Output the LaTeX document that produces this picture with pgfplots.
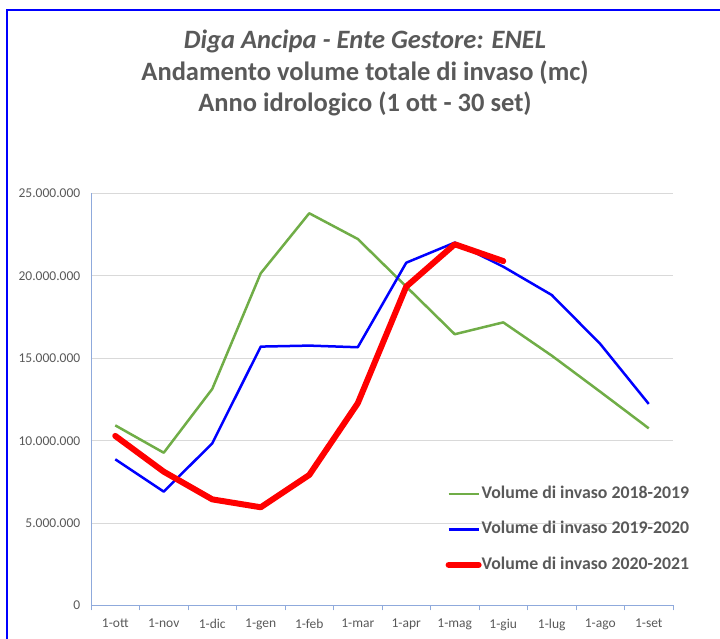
\documentclass[border=0pt]{standalone}
\usepackage{fontspec}
\setmainfont{Carlito}
\usepackage{pgfplots}
\pgfplotsset{compat=1.18}
\definecolor{ttl}{HTML}{595959}
\definecolor{axblue}{HTML}{8FAADC}
\definecolor{grd}{HTML}{D9D9D9}
\definecolor{grn}{HTML}{70AD47}
\definecolor{frm}{HTML}{0000FF}

\begin{document}
\begin{tikzpicture}[x=1pt,y=1pt]
\useasboundingbox (0,0) rectangle (720,639);
\draw[frm, line width=1.5pt] (7,-2) -- (7,629) -- (722,629);
% title
\node[anchor=base, font=\fontsize{26.5}{30}\selectfont\bfseries\itshape, text=ttl] at (365,590) {Diga Ancipa - Ente Gestore: ENEL};
\node[anchor=base, font=\fontsize{26.5}{30}\selectfont\bfseries, text=ttl] at (365,558) {Andamento volume totale di invaso (mc)};
\node[anchor=base, font=\fontsize{26.5}{30}\selectfont\bfseries, text=ttl] at (365,527) {Anno idrologico (1 ott - 30 set)};

\begin{axis}[
    at={(91pt,33.5pt)}, anchor=south west,
    scale only axis,
    width=582pt, height=412pt,
    xmin=-0.5, xmax=11.5,
    ymin=0, ymax=25000000,
    axis x line=bottom, axis y line=left,
    axis line style={-, axblue, line width=0.8pt},
    xtick={0,...,11},
    xticklabels={1-ott,1-nov,1-dic,1-gen,1-feb,1-mar,1-apr,1-mag,1-giu,1-lug,1-ago,1-set},
    major x tick style={draw=none},
    minor xtick={-0.5,0.5,...,11.5},
    minor x tick style={axblue, line width=0.8pt},
    tick align=outside,
    minor tick length=5pt,
    ytick={0,5000000,10000000,15000000,20000000,25000000},
    yticklabels={0,5.000.000,10.000.000,15.000.000,20.000.000,25.000.000},
    scaled y ticks=false,
    ytick style={draw=none},
    ymajorgrids,
    grid style={grd, line width=0.8pt},
    /pgf/number format/assume math mode=true,
    tick label style={font=\fontsize{13.5}{16}\selectfont, text=ttl},
    xticklabel style={yshift=-6pt},
    yticklabel style={xshift=-3pt},
    legend style={at={(0.609,0.292)}, anchor=north west, draw=none, fill=none,
        font=\fontsize{17.8}{20}\selectfont\bfseries, text=ttl,
        row sep=18.5pt, inner sep=0pt, column sep=0pt,
        nodes={inner sep=0pt, text height=13pt, text depth=4pt}},
    legend cell align=left,
    legend image code/.code={\draw[#1] (0pt,0pt) -- (30pt,0pt);},
    every axis plot/.append style={line join=round},
]
\addplot[grn, line width=2.5pt] coordinates {
    (0,10930000) (1,9270000) (2,13140000) (3,20160000) (4,23800000) (5,22240000)
    (6,19350000) (7,16460000) (8,17180000) (9,15160000) (10,12970000) (11,10750000)
};
\addlegendentry{Volume di invaso 2018-2019}
\addplot[blue, line width=2.5pt] coordinates {
    (0,8870000) (1,6910000) (2,9840000) (3,15710000) (4,15770000) (5,15670000)
    (6,20800000) (7,22020000) (8,20560000) (9,18840000) (10,15870000) (11,12230000)
};
\addlegendentry{Volume di invaso 2019-2020}
\addplot[red, line width=6pt, line cap=round] coordinates {
    (0,10290000) (1,8120000) (2,6440000) (3,5960000) (4,7920000) (5,12270000)
    (6,19350000) (7,21920000) (8,20900000)
};
\addlegendentry{Volume di invaso 2020-2021}
\end{axis}
\end{tikzpicture}
\end{document}
